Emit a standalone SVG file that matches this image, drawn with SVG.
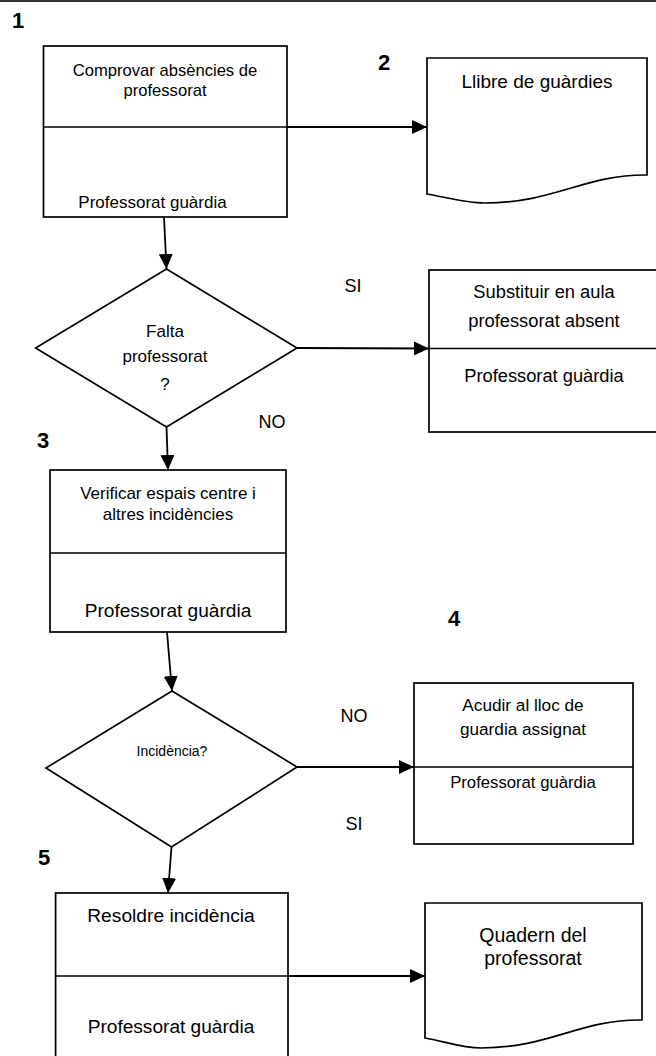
<svg xmlns="http://www.w3.org/2000/svg" width="656" height="1056" viewBox="0 0 656 1056">
<style>
  .shape{fill:#fff;stroke:#000;stroke-width:1.7}
  .div{stroke:#000;stroke-width:1.7;fill:none}
  .conn{stroke:#000;stroke-width:1.8;fill:none}
  text{font-family:"Liberation Sans",Arial,sans-serif;fill:#000}
  .c{text-anchor:middle}
  .num{font-weight:bold;font-size:22px}
</style>
<defs>
  <marker id="ah" markerUnits="userSpaceOnUse" markerWidth="15" markerHeight="14" refX="15" refY="7" orient="auto">
    <path d="M0,0 L15,7 L0,14 Z" fill="#000"/>
  </marker>
</defs>
<rect x="0" y="0" width="656" height="1056" fill="#fff"/>
<line x1="0" y1="1" x2="656" y2="1" stroke="#333" stroke-width="2"/>

<g id="num-labels">
  <text class="num" x="12" y="28">1</text>
  <text class="num" x="378" y="70">2</text>
  <text class="num" x="37" y="448">3</text>
  <text class="num" x="448" y="626">4</text>
  <text class="num" x="38" y="865">5</text>
</g>

<g id="n1">
  <rect class="shape" x="43.5" y="46" width="243.5" height="171"/>
  <line class="div" x1="43.5" y1="127" x2="287" y2="127"/>
  <text class="c" x="165" y="76" font-size="16.6">Comprovar absències de</text>
  <text class="c" x="165" y="96" font-size="16.6">professorat</text>
  <text class="c" x="152.5" y="208" font-size="17">Professorat guàrdia</text>
</g>

<g id="n2">
  <path class="shape" d="M427,58 H647 V175 C585,174 555,203 485,203 C465,203 445,197 427,194 Z"/>
  <text class="c" x="537" y="88" font-size="19">Llibre de guàrdies</text>
</g>

<g id="d1">
  <polygon class="shape" points="166.5,269 297,348 166.5,427 35.6,348"/>
  <text class="c" x="165" y="337" font-size="17">Falta</text>
  <text class="c" x="165" y="362" font-size="17">professorat</text>
  <text class="c" x="165" y="390" font-size="17">?</text>
</g>

<g id="n-subst">
  <rect class="shape" x="429" y="270" width="240" height="162"/>
  <line class="div" x1="429" y1="348.5" x2="669" y2="348.5"/>
  <text class="c" x="544" y="298" font-size="18.3">Substituir en aula</text>
  <text class="c" x="544" y="327" font-size="18.3">professorat absent</text>
  <text class="c" x="544" y="382" font-size="18.3">Professorat guàrdia</text>
</g>

<g id="n3">
  <rect class="shape" x="50" y="470" width="236" height="162"/>
  <line class="div" x1="50" y1="553" x2="286" y2="553"/>
  <text class="c" x="168" y="499" font-size="17">Verificar espais centre i</text>
  <text class="c" x="168" y="520" font-size="17">altres incidències</text>
  <text class="c" x="168" y="617" font-size="19.1">Professorat guàrdia</text>
</g>

<g id="d2">
  <polygon class="shape" points="172,691 297,767 171.5,847 46,768"/>
  <text class="c" x="172" y="756" font-size="14">Incidència?</text>
</g>

<g id="n4">
  <rect class="shape" x="414" y="683" width="219" height="161"/>
  <line class="div" x1="414" y1="767" x2="633" y2="767"/>
  <text class="c" x="523" y="711" font-size="17.2">Acudir al lloc de</text>
  <text class="c" x="523" y="735" font-size="17.2">guardia assignat</text>
  <text class="c" x="523" y="788" font-size="16.7">Professorat guàrdia</text>
</g>

<g id="n5">
  <rect class="shape" x="55.6" y="893" width="232.4" height="180"/>
  <line class="div" x1="55.6" y1="976" x2="288" y2="976"/>
  <text class="c" x="171" y="922" font-size="19.2">Resoldre incidència</text>
  <text class="c" x="171" y="1033" font-size="19.1">Professorat guàrdia</text>
</g>

<g id="n6">
  <path class="shape" d="M425,903 H642 V1020 C580,1019 550,1048 481,1048 C462,1048 443,1041 425,1038 Z"/>
  <text class="c" x="533" y="942" font-size="19.5">Quadern del</text>
  <text class="c" x="533" y="965" font-size="19.5">professorat</text>
</g>

<g id="edge-labels">
  <text class="c" x="353" y="292" font-size="18">SI</text>
  <text class="c" x="272" y="428" font-size="18">NO</text>
  <text class="c" x="354" y="722" font-size="18">NO</text>
  <text class="c" x="354" y="830" font-size="18">SI</text>
</g>

<g id="connectors">
  <line class="conn" x1="287" y1="127" x2="427" y2="127" marker-end="url(#ah)"/>
  <line class="conn" x1="164" y1="217" x2="166.5" y2="269" marker-end="url(#ah)"/>
  <line class="conn" x1="297" y1="348" x2="429" y2="348.5" marker-end="url(#ah)"/>
  <line class="conn" x1="166.5" y1="427" x2="168" y2="470" marker-end="url(#ah)"/>
  <line class="conn" x1="167" y1="632" x2="172" y2="691" marker-end="url(#ah)"/>
  <line class="conn" x1="297" y1="767" x2="414" y2="767" marker-end="url(#ah)"/>
  <line class="conn" x1="171.5" y1="847" x2="168" y2="893" marker-end="url(#ah)"/>
  <line class="conn" x1="288" y1="976" x2="425" y2="976" marker-end="url(#ah)"/>
</g>
</svg>
